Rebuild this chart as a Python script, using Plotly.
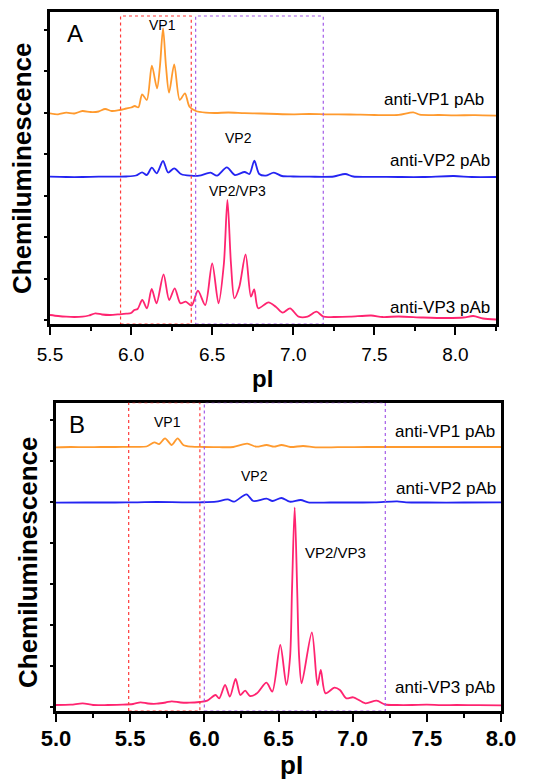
import plotly.graph_objects as go

# ---- panel A data (pI, arbitrary chemiluminescence units) ----
a_vp1_x = [5.50, 5.55, 5.60, 5.65, 5.70, 5.75, 5.80, 5.84, 5.88, 5.93, 5.97, 6.00,
           6.023, 6.045, 6.068, 6.097, 6.128, 6.16, 6.178, 6.197, 6.215, 6.234, 6.266,
           6.30, 6.332, 6.36, 6.40, 6.46, 6.52, 6.60, 6.70, 6.80, 6.90, 7.00, 7.10,
           7.20, 7.35, 7.50, 7.65, 7.74, 7.78, 7.90, 8.00, 8.12, 8.25]
a_vp1_y = [210.7, 209.7, 211.3, 210.5, 213, 212, 212.5, 215, 213, 214, 215.5, 216.5,
           218, 216.7, 229.7, 224, 258.3, 235.7, 258, 295.7, 258, 231.3, 259.7,
           224, 230.7, 217.3, 213, 211.3, 211, 211.5, 210.8, 210.5, 210, 209.7, 210,
           209.7, 209.5, 209, 209.2, 211.7, 209.3, 209, 208.7, 208.8, 208.3]

a_vp2_x = [5.50, 5.60, 5.70, 5.80, 5.90, 5.97, 6.03, 6.068, 6.097, 6.128, 6.158, 6.197,
           6.228, 6.266, 6.31, 6.37, 6.42, 6.49, 6.53, 6.59, 6.64, 6.70, 6.73, 6.76,
           6.79, 6.83, 6.88, 6.93, 7.00, 7.10, 7.25, 7.32, 7.37, 7.50, 7.65, 7.80,
           7.99, 8.10, 8.25]
a_vp2_y = [147.3, 147, 147, 147.3, 147.3, 147.5, 148.5, 151.7, 149, 156.3, 150.7, 163,
           151.5, 155.7, 149.7, 148.3, 148.3, 151.3, 148.3, 156.7, 149, 152, 150, 163.3,
           150, 148.3, 151.3, 148, 147.5, 147.3, 147.5, 150, 147.5, 147.2, 147, 147,
           148, 147, 147]

a_vp3_x = [5.50, 5.55, 5.60, 5.65, 5.70, 5.74, 5.78, 5.82, 5.87, 5.93, 5.97, 6.00,
           6.02, 6.04, 6.069, 6.098, 6.127, 6.157, 6.200, 6.235, 6.269, 6.304, 6.337,
           6.373, 6.412, 6.457, 6.500, 6.539, 6.572, 6.594, 6.616, 6.637, 6.667, 6.706,
           6.739, 6.759, 6.784, 6.847, 6.892, 6.935, 6.980, 7.033, 7.088, 7.143, 7.186,
           7.25, 7.35, 7.48, 7.55, 7.65, 7.80, 7.95, 8.05, 8.11, 8.17, 8.25]
a_vp3_y = [9, 8, 7.3, 7, 7.3, 8.5, 10.7, 9.5, 9, 9.7, 10.3, 11,
           14, 15, 24, 15.7, 35, 20.7, 49.7, 24, 35.7, 20.7, 22.3,
           18.3, 33.3, 19, 60.7, 20.7, 60, 124, 60, 25.7, 37, 69.7,
           27.3, 34.7, 15.7, 21.7, 17.3, 11.3, 15.7, 7.3, 7.3, 12.3, 7.3,
           7, 7.3, 8.5, 7, 7.5, 6.5, 6, 6.5, 8, 5.5, 4.5]

# ---- panel B data ----
b_vp1_x = [5.00, 5.10, 5.20, 5.30, 5.40, 5.50, 5.61, 5.663, 5.696, 5.735, 5.78, 5.82,
           5.858, 5.914, 6.00, 6.10, 6.195, 6.289, 6.35, 6.42, 6.47, 6.52, 6.58, 6.666,
           6.75, 6.90, 7.10, 7.40, 7.70, 8.00]
b_vp1_y = [263.7, 264, 263.8, 264, 264, 264.2, 264.5, 268.7, 267, 272.7, 266, 272.7,
           266, 264.3, 264, 263.8, 264, 267.3, 264.3, 266, 264.3, 266, 264, 265,
           263.7, 263.8, 264, 264, 264, 264]

b_vp2_x = [5.00, 5.20, 5.40, 5.55, 5.68, 5.85, 5.97, 6.08, 6.157, 6.20, 6.284, 6.33,
           6.42, 6.46, 6.52, 6.576, 6.65, 6.70, 6.85, 7.00, 7.15, 7.30, 7.36, 7.50,
           7.75, 8.00]
b_vp2_y = [208.3, 208.5, 208.5, 208.7, 209, 208.7, 208.7, 209.3, 211.7, 209.3, 216.7, 210,
           212.3, 210, 213, 209.3, 211, 208.7, 208.5, 208.5, 208.7, 209.7, 208.7, 208.5,
           208.5, 208.7]

b_vp3_x = [5.00, 5.10, 5.18, 5.25, 5.35, 5.45, 5.52, 5.57, 5.62, 5.68, 5.74, 5.78,
           5.84, 5.90, 5.968, 6.02, 6.075, 6.10, 6.14, 6.172, 6.211, 6.243, 6.275, 6.308,
           6.355, 6.419, 6.458, 6.512, 6.553, 6.578, 6.591, 6.609, 6.626, 6.639, 6.656,
           6.725, 6.763, 6.785, 6.817, 6.877, 6.914, 6.957, 7.004, 7.086, 7.161, 7.22,
           7.30, 7.40, 7.50, 7.60, 7.70, 7.85, 8.00]
b_vp3_y = [6, 6.3, 7.7, 6, 6, 6.3, 7, 8.7, 7.5, 7.3, 8.5, 9.7,
           8.5, 8.3, 9, 10.3, 16, 12.7, 26, 14.3, 32, 16, 20.3, 15,
           17.7, 28.3, 19.3, 66, 26, 54, 121, 203.7, 121, 54, 27.7,
           78.7, 26, 41, 17.7, 23.3, 21, 12.7, 13.7, 7.7, 10.3, 6.5,
           6, 6, 6.3, 5.8, 6, 5.8, 5.7]

trace_names = ["anti-VP1 pAb", "anti-VP2 pAb", "anti-VP3 pAb"]
colors = ["#FF9A2E", "#2424F2", "#FF2470"]

# red / purple boxes (pI limits)
a_boxes = [(5.935, 6.371), (6.398, 7.185)]
b_boxes = [(5.49, 5.97), (6.0, 7.22)]

W, H = 550, 784
FONT = "Liberation Sans, Arial, sans-serif"


def px(x):
    return x / W


def py(y):
    return 1 - y / H


fig = go.Figure()

for xs, ys, c, n in zip([a_vp1_x, a_vp2_x, a_vp3_x], [a_vp1_y, a_vp2_y, a_vp3_y], colors, trace_names):
    fig.add_trace(go.Scatter(x=xs, y=ys, mode="lines", name=n, xaxis="x", yaxis="y",
                             line=dict(color=c, width=1.8, shape="spline", smoothing=0.8)))
for xs, ys, c, n in zip([b_vp1_x, b_vp2_x, b_vp3_x], [b_vp1_y, b_vp2_y, b_vp3_y], colors, trace_names):
    fig.add_trace(go.Scatter(x=xs, y=ys, mode="lines", name=n, xaxis="x2", yaxis="y2",
                             line=dict(color=c, width=1.8, shape="spline", smoothing=0.8)))

box_colors = ["#FF3B3B", "#A35BE8"]
shapes = []
for (x0, x1), c in zip(a_boxes, box_colors):
    shapes.append(dict(type="rect", xref="x", yref="y", x0=x0, x1=x1, y0=0, y1=308,
                       line=dict(color=c, width=1.2, dash="dot")))
for (x0, x1), c in zip(b_boxes, box_colors):
    shapes.append(dict(type="rect", xref="x2", yref="y2", x0=x0, x1=x1, y0=0, y1=308.3,
                       line=dict(color=c, width=1.2, dash="dot")))

common_x = dict(showline=True, linecolor="black", linewidth=2.5, mirror=True,
                ticks="outside", ticklen=8, tickwidth=2, tickcolor="black",
                showgrid=False, zeroline=False, dtick=0.5, tickformat=".1f", automargin=False,
                minor=dict(ticks="outside", ticklen=4, tickwidth=2, tickcolor="black", dtick=0.25))
common_y = dict(showline=True, linecolor="black", linewidth=2.5, mirror=True,
                ticks="outside", ticklen=3, tickwidth=1.5, tickcolor="black",
                showgrid=False, zeroline=False, showticklabels=False, automargin=False,
                minor=dict(ticks="outside", ticklen=2, tickwidth=1.2, tickcolor="black"))

fig.update_layout(
    width=W, height=H,
    template="none",
    margin=dict(l=0, r=0, t=0, b=0, autoexpand=False),
    paper_bgcolor="white", plot_bgcolor="white",
    showlegend=False,
    hovermode=False,
    font=dict(family=FONT, color="black"),
    xaxis=dict(common_x, domain=[px(50), px(496)], range=[5.5, 8.25], anchor="y",
               tick0=5.5, tickfont=dict(size=19), ticklabelstandoff=3),
    yaxis=dict(common_y, domain=[py(324), py(12)], range=[0, 312], anchor="x",
               tick0=4, dtick=41.5),
    xaxis2=dict(common_x, domain=[px(56), px(501)], range=[5.0, 8.0], anchor="y2",
                tick0=5.0, tickfont=dict(size=22, weight="bold"), ticklabelstandoff=-2),
    yaxis2=dict(common_y, domain=[py(711), py(402.7)], range=[0, 308.3], anchor="x2",
                tick0=4, dtick=41),
    shapes=shapes,
)

# text labels: (text, x px, y px, size, anchor, bold)
labels = [
    ("A", 75, 33.5, 24, "center", False),
    ("VP1", 162.5, 25, 14, "center", False),
    ("VP2", 238, 138, 14, "center", False),
    ("VP2/VP3", 237, 191.5, 14, "center", False),
    ("anti-VP1 pAb", 486, 100, 17, "right", False),
    ("anti-VP2 pAb", 492, 160, 17, "right", False),
    ("anti-VP3 pAb", 492, 308, 17, "right", False),
    ("B", 76.5, 424.5, 24, "center", False),
    ("VP1", 167, 422, 14, "center", False),
    ("VP2", 254, 476, 14, "center", False),
    ("VP2/VP3", 335, 552.5, 15, "center", False),
    ("anti-VP1 pAb", 497, 431, 17, "right", False),
    ("anti-VP2 pAb", 498, 488, 17, "right", False),
    ("anti-VP3 pAb", 497, 687, 17, "right", False),
    ("pI", 262, 378, 24, "center", True),
    ("pI", 291, 765, 26, "center", True),
]
for text, x, y, size, anchor, bold in labels:
    fig.add_annotation(text=text, x=px(x), y=py(y), xref="paper", yref="paper",
                       xanchor=anchor, yanchor="middle", showarrow=False,
                       font=dict(size=size, family=FONT, weight="bold" if bold else "normal"))

for x, y in [(22, 169), (28, 563)]:
    fig.add_annotation(text="Chemiluminescence", x=px(x), y=py(y), xref="paper", yref="paper",
                       xanchor="center", yanchor="middle", showarrow=False, textangle=-90,
                       font=dict(size=26, family=FONT, weight="bold"))

# page body has a default 8px margin; drop it so the figure fills the window
fig.write_html("out.html", config={"displayModeBar": False},
               post_script="document.body.style.margin='0';")
